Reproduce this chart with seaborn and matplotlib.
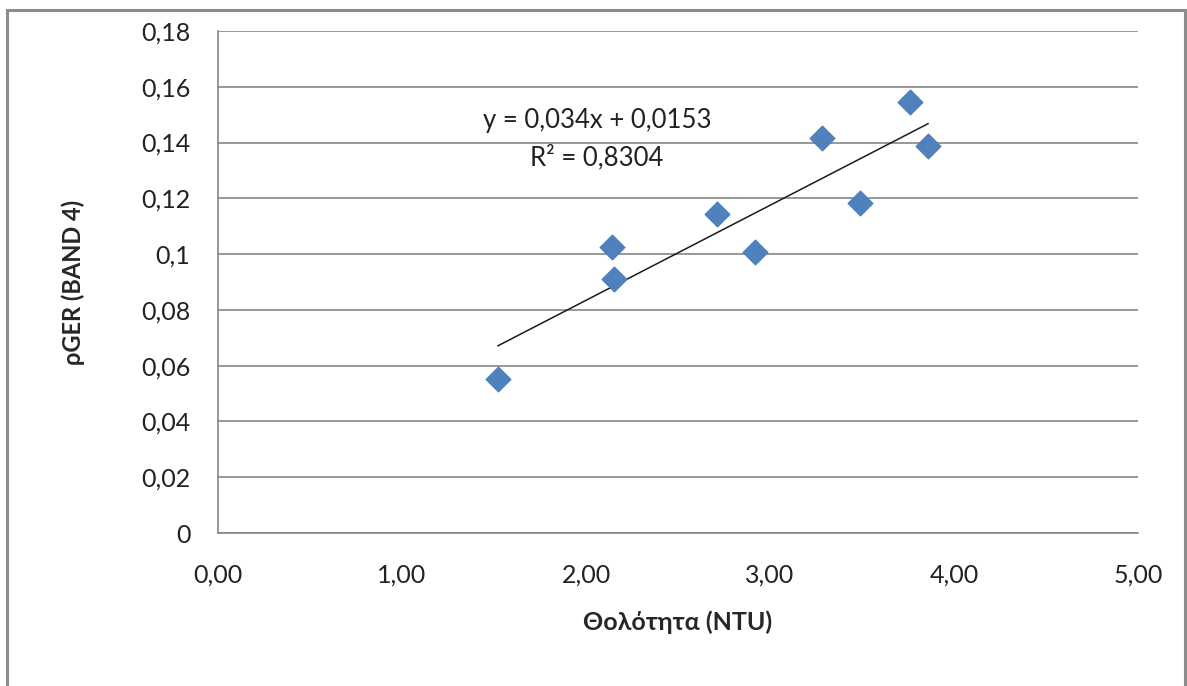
import numpy as np
import pandas as pd
import matplotlib
matplotlib.use("Agg")
import matplotlib.pyplot as plt
import seaborn as sns
from matplotlib.ticker import FuncFormatter, MultipleLocator
from matplotlib.patches import Rectangle

# turbidity (NTU) vs reflectance rho_GER, band 4
turbidity = [1.52, 2.14, 2.15, 2.71, 2.92, 3.28, 3.49, 3.76, 3.86]
rho_ger = [0.0553, 0.1026, 0.0910, 0.1145, 0.1009, 0.1418, 0.1183, 0.1544, 0.1389]
trend_text = ["y = 0,034x + 0,0153", "R\u00b2 = 0,8304"]

df = pd.DataFrame({"ntu": turbidity, "rho": rho_ger})

sns.set_style("white")
plt.rcParams["font.family"] = ["Lato", "DejaVu Sans"]

grey = "#868686"
fig = plt.figure(figsize=(11.87, 6.86), dpi=100)
ax = fig.add_axes([0.1837, 0.2230, 0.9587 - 0.1837, 0.9548 - 0.2230])

sns.regplot(data=df, x="ntu", y="rho", scatter=False, ci=None, truncate=True,
            line_kws={"color": "#1a1a1a", "lw": 1.1}, ax=ax)
sns.scatterplot(data=df, x="ntu", y="rho", marker="D", s=165, color="#4F81BD",
                edgecolor="#4A7AB5", linewidth=0.6, ax=ax, zorder=3)

ax.set_xlim(0, 5)
ax.set_ylim(0, 0.18)
ax.xaxis.set_major_locator(MultipleLocator(1))
ax.yaxis.set_major_locator(MultipleLocator(0.02))


def fmt_y(v, pos):
    s = f"{v:.2f}".rstrip("0").rstrip(".")
    return s.replace(".", ",")


ax.yaxis.set_major_formatter(FuncFormatter(fmt_y))
ax.xaxis.set_major_formatter(FuncFormatter(lambda v, p: f"{v:.2f}".replace(".", ",")))

ax.grid(axis="y", color=grey, lw=1.2)
ax.grid(axis="x", visible=False)
for side in ["top", "right"]:
    ax.spines[side].set_visible(False)
for side in ["left", "bottom"]:
    ax.spines[side].set_color(grey)
    ax.spines[side].set_linewidth(1.2)

ax.tick_params(axis="y", length=0, pad=20, labelsize=18, labelcolor="#222222")
ax.tick_params(axis="x", length=0, pad=22, labelsize=18, labelcolor="#222222")

ax.set_xlabel("Θολότητα (NTU)", fontsize=18, fontweight="bold")
ax.set_ylabel("ρGER (BAND 4)", fontsize=17, fontweight="bold")
ax.xaxis.set_label_coords(0.5, -0.155)
ax.yaxis.set_label_coords(-0.145, 0.5)

ax.text(2.06, 0.148, trend_text[0], ha="center", va="center", fontsize=18.5, color="#222222")
ax.text(2.06, 0.1345, trend_text[1], ha="center", va="center", fontsize=18.5, color="#222222")

fig.patches.append(Rectangle((0.0059, -0.02), 0.9924, 1.0054, transform=fig.transFigure,
                             fill=False, edgecolor="#8c8c8c", lw=2.2))

fig.savefig("out.png", dpi=100)
